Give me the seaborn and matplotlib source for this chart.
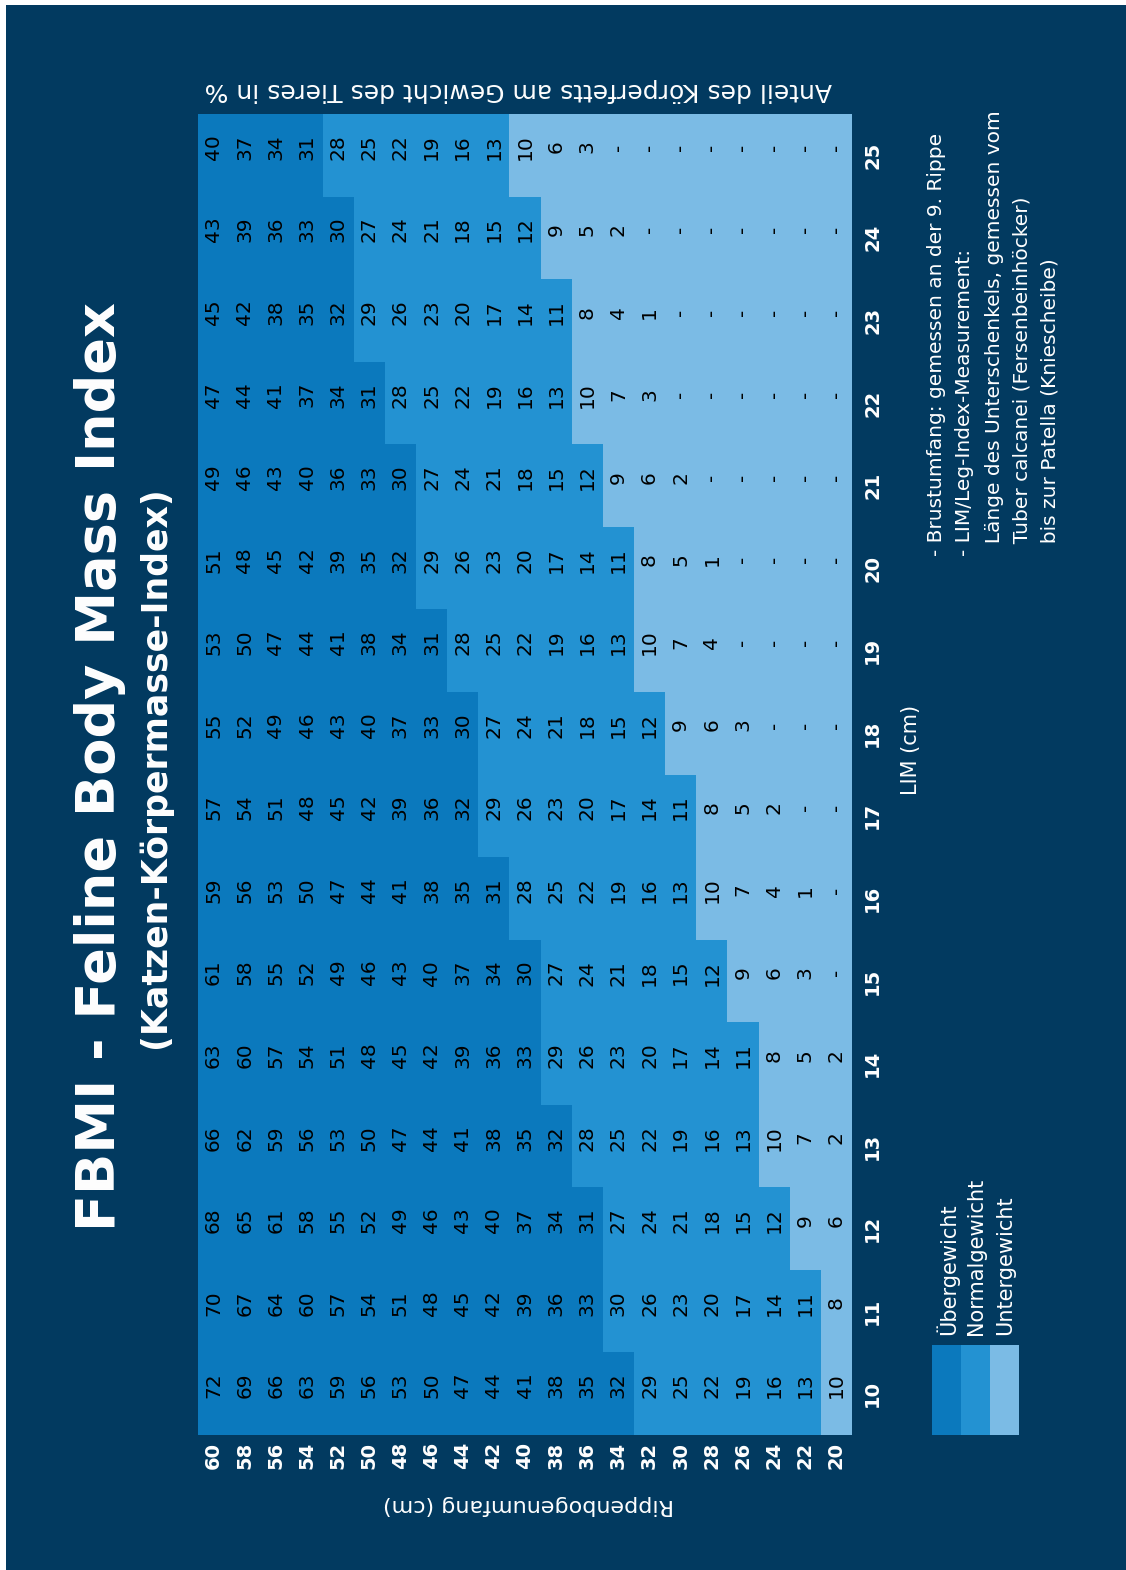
import numpy as np
import pandas as pd
import matplotlib
matplotlib.use("Agg")
import matplotlib.pyplot as plt
from matplotlib.colors import ListedColormap
from matplotlib.patches import Rectangle
import seaborn as sns

# ---------------- data ----------------
# Rippenbogenumfang (cm) -> columns of the (rotated) table, left to right
rippen_cm = [60, 58, 56, 54, 52, 50, 48, 46, 44, 42, 40, 38, 36, 34, 32, 30, 28, 26, 24, 22, 20]
# LIM (cm) -> rows, top to bottom
lim_cm = [25, 24, 23, 22, 21, 20, 19, 18, 17, 16, 15, 14, 13, 12, 11, 10]

# body fat share in % per LIM row (None = "-")
fat_lim25 = [40, 37, 34, 31, 28, 25, 22, 19, 16, 13, 10, 6, 3, None, None, None, None, None, None, None, None]
fat_lim24 = [43, 39, 36, 33, 30, 27, 24, 21, 18, 15, 12, 9, 5, 2, None, None, None, None, None, None, None]
fat_lim23 = [45, 42, 38, 35, 32, 29, 26, 23, 20, 17, 14, 11, 8, 4, 1, None, None, None, None, None, None]
fat_lim22 = [47, 44, 41, 37, 34, 31, 28, 25, 22, 19, 16, 13, 10, 7, 3, None, None, None, None, None, None]
fat_lim21 = [49, 46, 43, 40, 36, 33, 30, 27, 24, 21, 18, 15, 12, 9, 6, 2, None, None, None, None, None]
fat_lim20 = [51, 48, 45, 42, 39, 35, 32, 29, 26, 23, 20, 17, 14, 11, 8, 5, 1, None, None, None, None]
fat_lim19 = [53, 50, 47, 44, 41, 38, 34, 31, 28, 25, 22, 19, 16, 13, 10, 7, 4, None, None, None, None]
fat_lim18 = [55, 52, 49, 46, 43, 40, 37, 33, 30, 27, 24, 21, 18, 15, 12, 9, 6, 3, None, None, None]
fat_lim17 = [57, 54, 51, 48, 45, 42, 39, 36, 32, 29, 26, 23, 20, 17, 14, 11, 8, 5, 2, None, None]
fat_lim16 = [59, 56, 53, 50, 47, 44, 41, 38, 35, 31, 28, 25, 22, 19, 16, 13, 10, 7, 4, 1, None]
fat_lim15 = [61, 58, 55, 52, 49, 46, 43, 40, 37, 34, 30, 27, 24, 21, 18, 15, 12, 9, 6, 3, None]
fat_lim14 = [63, 60, 57, 54, 51, 48, 45, 42, 39, 36, 33, 29, 26, 23, 20, 17, 14, 11, 8, 5, 2]
fat_lim13 = [66, 62, 59, 56, 53, 50, 47, 44, 41, 38, 35, 32, 28, 25, 22, 19, 16, 13, 10, 7, 2]
fat_lim12 = [68, 65, 61, 58, 55, 52, 49, 46, 43, 40, 37, 34, 31, 27, 24, 21, 18, 15, 12, 9, 6]
fat_lim11 = [70, 67, 64, 60, 57, 54, 51, 48, 45, 42, 39, 36, 33, 30, 26, 23, 20, 17, 14, 11, 8]
fat_lim10 = [72, 69, 66, 63, 59, 56, 53, 50, 47, 44, 41, 38, 35, 32, 29, 25, 22, 19, 16, 13, 10]

# weight classes per LIM row: number of leading "Übergewicht" cells,
# and index of the first "Untergewicht" cell
over_count = [4, 5, 5, 6, 7, 7, 8, 9, 9, 10, 11, 11, 12, 13, 13, 14]
under_start = [10, 11, 12, 12, 13, 14, 14, 15, 16, 16, 17, 18, 18, 19, 20, 20]

class_labels = ["Übergewicht", "Normalgewicht", "Untergewicht"]
class_colors = ["#0b79bd", "#2392d2", "#7bbbe5"]
bg_color = "#023a60"

title = "FBMI - Feline Body Mass Index"
subtitle = "(Katzen-Körpermasse-Index)"
top_label = "Anteil des Körperfetts am Gewicht des Tieres in %"
x_label = "Rippenbogenumfang (cm)"
y_label = "LIM (cm)"
notes = [
    "- Brustumfang: gemessen an der 9. Rippe",
    "- LIM/Leg-Index-Measurement:",
    "  Länge des Unterschenkels, gemessen vom",
    "  Tuber calcanei (Fersenbeinhöcker)",
    "  bis zur Patella (Kniescheibe)",
]

# ---------------- tables ----------------
fat_rows = [fat_lim25, fat_lim24, fat_lim23, fat_lim22, fat_lim21, fat_lim20, fat_lim19, fat_lim18,
            fat_lim17, fat_lim16, fat_lim15, fat_lim14, fat_lim13, fat_lim12, fat_lim11, fat_lim10]
annot = pd.DataFrame([["-" if v is None else str(v) for v in r] for r in fat_rows],
                     index=lim_cm, columns=rippen_cm)
cls = np.ones((len(lim_cm), len(rippen_cm)))
for i in range(len(lim_cm)):
    cls[i, :over_count[i]] = 0
    cls[i, under_start[i]:] = 2
cls_df = pd.DataFrame(cls, index=lim_cm, columns=rippen_cm)

# ---------------- figure ----------------
W, H = 1126, 1570
fig = plt.figure(figsize=(W / 100, H / 100), dpi=100, facecolor=bg_color)


def fx(px):
    return px / W


def fy(py):
    return 1 - py / H


ax = fig.add_axes([fx(198), fy(1435), fx(852) - fx(198), fy(114) - fy(1435)])
sns.heatmap(cls_df, ax=ax, cmap=ListedColormap(class_colors), vmin=-0.5, vmax=2.5,
            cbar=False, annot=annot, fmt="", linewidths=0,
            annot_kws={"rotation": 90, "color": "black", "fontsize": 14.5})
for t in ax.texts:
    x, y = t.get_position()
    t.set_position((x, y - 0.1))

ax.yaxis.tick_right()
ax.tick_params(axis="x", colors="white", labelsize=14, length=0, pad=5, labelrotation=90)
ax.tick_params(axis="y", colors="white", labelsize=14, length=0, pad=8, labelrotation=90)
for lbl in ax.get_yticklabels():
    lbl.set_va("center")
    lbl.set_ha("left")
    lbl.set_fontweight("bold")
for lbl in ax.get_xticklabels():
    lbl.set_fontweight("bold")
ax.set_xlabel("")
ax.set_ylabel("")
for s in ax.spines.values():
    s.set_visible(False)

# titles and labels
fig.text(fx(100), fy(767), title, rotation=90, ha="center", va="center",
         color="white", fontsize=39, fontweight="bold")
fig.text(fx(155), fy(767), subtitle, rotation=90, ha="center", va="center",
         color="white", fontsize=25, fontweight="bold")
fig.text(fx(518), fy(90), top_label, rotation=180, ha="center", va="center",
         color="white", fontsize=18)
fig.text(fx(528), fy(1505), x_label, rotation=180, ha="center", va="center",
         color="white", fontsize=16)
fig.text(fx(911), fy(750), y_label, rotation=90, ha="center", va="center",
         color="white", fontsize=15)

note_x = [936, 965, 994, 1022, 1050]
for nx, line in zip(note_x, notes):
    fig.text(fx(nx), fy(556), line, rotation=90, ha="center", va="bottom",
             color="white", fontsize=14.5)

# legend
strip_x = [932, 961, 990]
for sx, col, lab in zip(strip_x, class_colors, class_labels):
    fig.patches.append(Rectangle((fx(sx), fy(1435)), fx(29), fy(1345) - fy(1435),
                                 transform=fig.transFigure, facecolor=col, edgecolor="none"))
    fig.text(fx(sx + 15), fy(1335), lab, rotation=90, ha="center", va="bottom",
             color="white", fontsize=15)

# white frame edges of the original scan
fig.patches.append(Rectangle((0, fy(5)), 1, 5 / H, transform=fig.transFigure,
                             facecolor="white", edgecolor="none"))
fig.patches.append(Rectangle((0, 0), fx(6), 1, transform=fig.transFigure,
                             facecolor="white", edgecolor="none"))

fig.savefig("out.png", dpi=100, facecolor=bg_color)
